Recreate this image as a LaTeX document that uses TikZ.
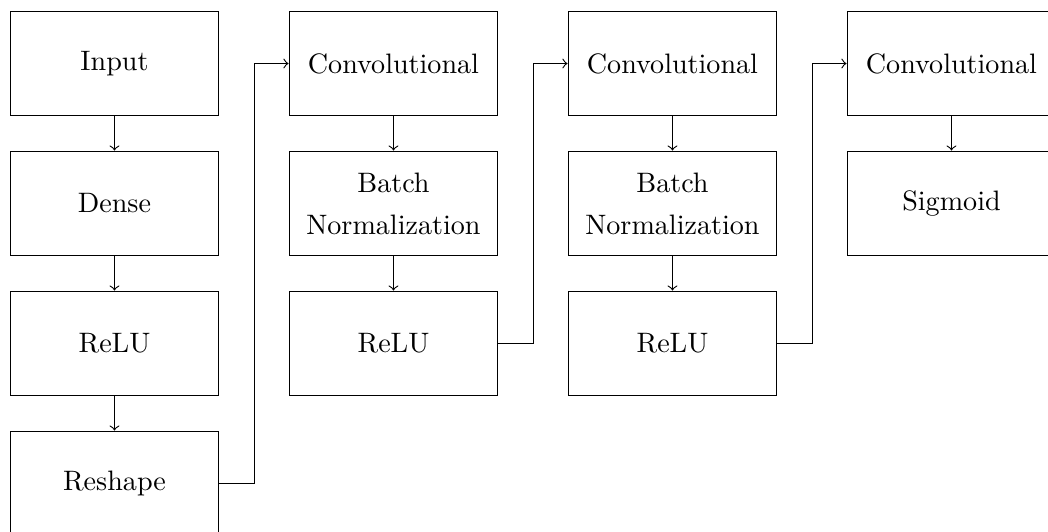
\documentclass[tikz,border=0pt]{standalone}
\begin{document}
\begin{tikzpicture}[
  layer/.style={draw, minimum width=2.61cm, minimum height=1.31cm, align=center, inner sep=0pt},
  link/.style={->}
]
\useasboundingbox (0,0) rectangle (13.1,-6.65);
% column and row pitch
\def\cx{3.4875}
\def\ry{1.75}
% first column
\node[layer] (input)   at (1.431,-0.794) {Input};
\node[layer] (dense)   at (1.431,-0.794-\ry) {Dense};
\node[layer] (relua)   at (1.431,-0.794-2*\ry) {ReLU};
\node[layer] (reshape) at (1.431,-0.794-3*\ry) {Reshape};
% second column
\node[layer] (conva) at (1.431+\cx,-0.794) {Convolutional};
\node[layer] (bna)   at (1.431+\cx,-0.794-\ry) {Batch\\[3pt]Normalization};
\node[layer] (relub) at (1.431+\cx,-0.794-2*\ry) {ReLU};
% third column
\node[layer] (convb) at (1.431+2*\cx,-0.794) {Convolutional};
\node[layer] (bnb)   at (1.431+2*\cx,-0.794-\ry) {Batch\\[3pt]Normalization};
\node[layer] (reluc) at (1.431+2*\cx,-0.794-2*\ry) {ReLU};
% fourth column
\node[layer] (convc)   at (1.431+3*\cx,-0.794) {Convolutional};
\node[layer] (sigmoid) at (1.431+3*\cx,-0.794-\ry) {Sigmoid};
% vertical links
\draw[link] (input) -- (dense);
\draw[link] (dense) -- (relua);
\draw[link] (relua) -- (reshape);
\draw[link] (conva) -- (bna);
\draw[link] (bna) -- (relub);
\draw[link] (convb) -- (bnb);
\draw[link] (bnb) -- (reluc);
\draw[link] (convc) -- (sigmoid);
% links between columns
\draw[link] (reshape.east) -- ++(0.4375,0) |- (conva.west);
\draw[link] (relub.east) -- ++(0.4375,0) |- (convb.west);
\draw[link] (reluc.east) -- ++(0.4375,0) |- (convc.west);
\end{tikzpicture}
\end{document}
